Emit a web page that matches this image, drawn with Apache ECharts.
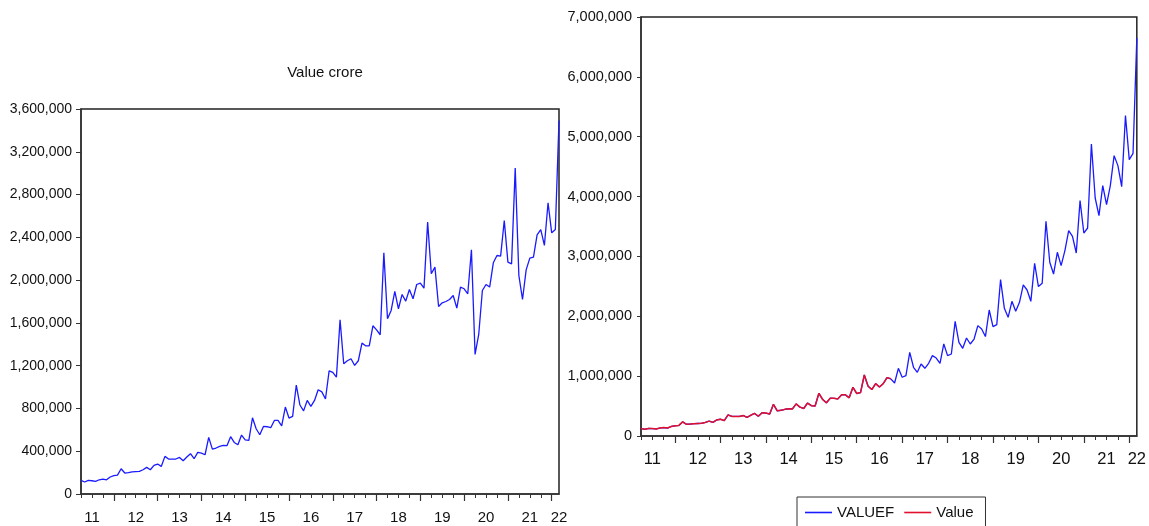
<!DOCTYPE html>
<html>
<head>
<meta charset="utf-8">
<script src="https://cdn.jsdelivr.net/npm/echarts@6/dist/echarts.min.js"></script>
<style>
html,body{margin:0;padding:0;background:#fff;}
#chart{width:1149px;height:526px;}
</style>
</head>
<body>
<div id="chart"></div>
<script>
// Monthly observations, 2011M04 .. 2022M03
const startYear = 2011, startMonth = 4, nObs = 132;
const categories = [];
for (let i = 0; i < nObs; i++) {
  const m = (startMonth - 1 + i) % 12;
  const y = startYear + Math.floor((startMonth - 1 + i) / 12);
  categories.push(y + 'M' + String(m + 1).padStart(2, '0'));
}
const yearLabels = ['11','12','13','14','15','16','17','18','19','20','21','22'];
const yearLabelIndex = [3, 15, 27, 39, 51, 63, 75, 87, 99, 111, 123, 131];

// Left panel: Value crore (actual)
const valueCrore = [
  127000,112000,127000,124000,118000,133000,140000,133000,159000,171000,177000,236000,
  196000,199000,206000,209000,212000,227000,249000,227000,268000,280000,258000,352000,
  327000,327000,327000,342000,311000,346000,377000,330000,389000,383000,367000,529000,
  420000,430000,445000,455000,452000,536000,482000,460000,551000,507000,501000,713000,
  610000,554000,632000,629000,620000,688000,688000,638000,813000,710000,726000,1019000,
  832000,777000,875000,819000,875000,975000,955000,888000,1152000,1137000,1093000,1629000,
  1218000,1246000,1265000,1202000,1246000,1411000,1386000,1386000,1573000,1535000,1489000,2255000,
  1638000,1716000,1894000,1732000,1866000,1804000,1912000,1825000,1959000,1972000,1925000,2542000,
  2059000,2121000,1753000,1788000,1800000,1819000,1856000,1738000,1935000,1919000,1872000,2283000,
  1305000,1492000,1903000,1959000,1935000,2162000,2230000,2224000,2557000,2168000,2152000,3047000,
  2043000,1819000,2096000,2206000,2215000,2423000,2473000,2324000,2723000,2442000,2473000,3492000
];

// Right panel: Value (sample, 2011M04..2016M10)
const valueSample = [
  127000,112000,127000,124000,118000,133000,140000,133000,159000,171000,177000,236000,
  196000,199000,206000,209000,212000,227000,249000,227000,268000,280000,258000,352000,
  327000,327000,327000,342000,311000,346000,377000,330000,389000,383000,367000,529000,
  420000,430000,445000,455000,452000,536000,482000,460000,551000,507000,501000,713000,
  610000,554000,632000,629000,620000,688000,688000,638000,813000,710000,726000,1019000,
  832000,777000,875000,819000,875000,975000,955000
];

// Right panel: VALUEF (fitted + forecast)
const valueF = [
  127000,112000,127000,124000,118000,133000,140000,133000,159000,171000,177000,236000,
  196000,199000,206000,209000,212000,227000,249000,227000,268000,280000,258000,352000,
  327000,327000,327000,342000,311000,346000,377000,330000,389000,383000,367000,529000,
  420000,430000,445000,455000,452000,536000,482000,460000,551000,507000,501000,713000,
  610000,554000,632000,629000,620000,688000,688000,638000,813000,710000,726000,1019000,
  832000,777000,875000,819000,875000,975000,955000,886000,1131000,981000,1009000,1398000,
  1148000,1064000,1203000,1131000,1214000,1343000,1303000,1214000,1537000,1343000,1370000,1916000,
  1565000,1465000,1637000,1537000,1620000,1844000,1788000,1661000,2105000,1828000,1861000,2613000,
  2133000,1983000,2250000,2083000,2234000,2523000,2439000,2250000,2885000,2496000,2551000,3587000,
  2902000,2706000,3069000,2847000,3097000,3431000,3336000,3057000,3933000,3391000,3475000,4878000,
  3976000,3682000,4183000,3866000,4183000,4684000,4517000,4166000,5353000,4617000,4723000,6649000
];

const FONT = 'Arial, "Liberation Sans", sans-serif';
const AXIS_COLOR = '#333';
const BLUE = '#1a1aff';
const RED = '#e0102e';

function fmtNum(v) { return String(v).replace(/\B(?=(\d{3})+(?!\d))/g, ','); }

function xAxesFor(gridIndex, fontSize, margin) {
  return [
    {
      type: 'category', gridIndex: gridIndex, data: categories, boundaryGap: false, position: 'bottom',
      axisLine: { show: true, lineStyle: { color: AXIS_COLOR, width: 1.5 } },
      axisTick: { show: true, length: 4, inside: false, interval: function (i) { return i % 3 === 0; },
                  lineStyle: { color: AXIS_COLOR, width: 1 } },
      axisLabel: {
        show: true, fontFamily: FONT, fontSize: fontSize, color: '#111', margin: margin,
        interval: function (i) { return yearLabelIndex.indexOf(i) >= 0; },
        formatter: function (v, i) { const k = yearLabelIndex.indexOf(i); return k >= 0 ? yearLabels[k] : ''; },
        hideOverlap: false
      },
      splitLine: { show: false }
    },
    {
      type: 'category', gridIndex: gridIndex, data: categories, boundaryGap: false, position: 'bottom',
      axisLine: { show: false },
      axisTick: { show: true, length: 7, inside: false, interval: function (i) { return i % 12 === 9; },
                  lineStyle: { color: AXIS_COLOR, width: 1.2 } },
      axisLabel: { show: false },
      splitLine: { show: false }
    }
  ];
}

const chart = echarts.init(document.getElementById('chart'), null, { renderer: 'canvas' });
const x0 = xAxesFor(0, 15, 16);
const x1 = xAxesFor(1, 16.5, 15);

chart.setOption({
  animation: false,
  backgroundColor: '#fff',
  title: {
    text: 'Value crore', left: 320, top: 60, textAlign: 'center',
    textStyle: { fontFamily: FONT, fontSize: 15, fontWeight: 'normal', color: '#111' }
  },
  legend: {
    show: true, left: 797, top: 497, orient: 'horizontal',
    data: ['VALUEF', 'Value'],
    icon: 'rect', itemWidth: 27, itemHeight: 1.6, itemGap: 10,
    padding: [8, 12, 8, 8],
    borderColor: '#333', borderWidth: 1, borderRadius: 0,
    textStyle: { fontFamily: FONT, fontSize: 15, color: '#111' }
  },
  grid: [
    { left: 81, top: 109, width: 478, height: 385, show: true, borderColor: '#222', borderWidth: 1.5, backgroundColor: 'transparent', containLabel: false },
    { left: 641, top: 17, width: 500, height: 419, show: true, borderColor: '#222', borderWidth: 1.5, backgroundColor: 'transparent', containLabel: false }
  ],
  xAxis: [x0[0], x0[1], x1[0], x1[1]],
  yAxis: [
    {
      type: 'value', gridIndex: 0, min: 0, max: 3600000, interval: 400000,
      axisLine: { show: true, lineStyle: { color: AXIS_COLOR, width: 1.5 } },
      axisTick: { show: true, length: 5, inside: false, lineStyle: { color: AXIS_COLOR } },
      axisLabel: { fontFamily: FONT, fontSize: 14, color: '#111', margin: 9, formatter: fmtNum },
      splitLine: { show: false }
    },
    {
      type: 'value', gridIndex: 1, min: 0, max: 7000000, interval: 1000000,
      axisLine: { show: true, lineStyle: { color: AXIS_COLOR, width: 1.5 } },
      axisTick: { show: true, length: 4, inside: false, lineStyle: { color: AXIS_COLOR } },
      axisLabel: { fontFamily: FONT, fontSize: 14.5, color: '#111', margin: 9, formatter: fmtNum },
      splitLine: { show: false }
    }
  ],
  series: [
    {
      name: 'Value crore', type: 'line', xAxisIndex: 0, yAxisIndex: 0, data: valueCrore,
      symbol: 'none', lineStyle: { color: BLUE, width: 1.3 }, itemStyle: { color: BLUE }
    },
    {
      name: 'VALUEF', type: 'line', xAxisIndex: 2, yAxisIndex: 1, data: valueF,
      symbol: 'none', lineStyle: { color: BLUE, width: 1.3 }, itemStyle: { color: BLUE }
    },
    {
      name: 'Value', type: 'line', xAxisIndex: 2, yAxisIndex: 1, data: valueSample,
      symbol: 'none', lineStyle: { color: RED, width: 1.5 }, itemStyle: { color: RED }
    }
  ]
});
</script>
</body>
</html>
